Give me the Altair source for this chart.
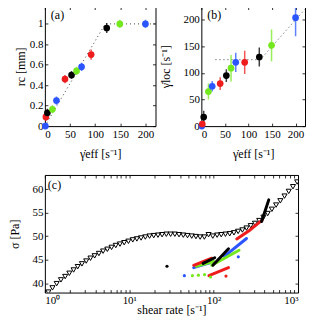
import altair as alt
import pandas as pd

FONT = "Liberation Serif"
TICK = 3

COLOR_KEYS = ["r", "k", "g", "b"]
COLOR_HEX = ["#ee1c1c", "#000000", "#74e81e", "#2a55ff"]

# ---------------- panels (a) and (b) ----------------
g_eff = [1, 2, 5, 15, 23, 40, 53, 63, 73, 92, 123, 149, 200]
pt_color = ["b", "r", "k", "g", "b", "r", "k", "g", "b", "r", "k", "g", "b"]
r_c = [0.0, 0.09, 0.13, 0.165, 0.25, 0.46, 0.50, 0.54, 0.58, 0.70, 0.96, 1.0, 1.0]
r_c_err = [0.03, 0.04, 0.04, 0.04, 0.04, 0.04, 0.04, 0.04, 0.04, 0.05, 0.05, 0.04, 0.04]
g_loc = [0, 4, 17, 65, 75, 80, 95, 109, 120, 120, 130, 152, 204]
g_loc_err = [3, 5, 12, 15, 10, 12, 12, 25, 18, 22, 18, 30, 35]

fit_a_x = [0, 120, 220]
fit_a_y = [0, 1, 1]
fit_b_x = [30, 125, 220]
fit_b_y = [125, 125, 220]

# ---------------- panel (c) ----------------
flow_rate = [1.10, 1.23, 1.38, 1.55, 1.74, 1.95, 2.19, 2.45, 2.75, 3.09,
             3.47, 3.89, 4.37, 4.90, 5.50, 6.17, 6.92, 7.76, 8.71, 9.77,
             11.0, 12.3, 13.8, 15.5, 17.4, 19.5, 21.9, 24.5, 27.5, 30.9,
             34.7, 38.9, 43.7, 49.0, 55.0, 61.7, 69.2, 77.6, 87.1, 97.7,
             110, 123, 138, 155, 174, 195, 219, 245, 275, 309,
             347, 389, 437, 490, 550, 617, 692, 776, 871, 977]
flow_stress = [38.1, 39.0, 39.9, 40.7, 41.4, 42.1, 42.8, 43.5, 44.1, 44.7,
               45.3, 45.8, 46.3, 46.8, 47.2, 47.6, 48.0, 48.3, 48.6, 48.9,
               49.2, 49.4, 49.6, 49.8, 50.0, 50.1, 50.2, 50.3, 50.4, 50.4,
               50.4, 50.3, 50.2, 50.1, 50.0, 49.9, 49.8, 49.8, 50.3, 50.0,
               50.2, 50.3, 50.4, 50.5, 50.7, 51.0, 51.3, 51.7, 52.2, 52.7,
               53.3, 54.0, 54.8, 55.7, 56.6, 57.5, 58.5, 59.5, 60.5, 61.5]

seg_id = ["bB", "bB", "bA", "bA", "gB", "gB", "gA", "gA", "rB", "rB", "rC", "rC",
          "rA", "rA", "rA", "kC", "kC", "kB", "kB", "kA", "kA"]
seg_color = ["b", "b", "b", "b", "g", "g", "g", "g", "r", "r", "r", "r",
             "r", "r", "r", "k", "k", "k", "k", "k", "k"]
seg_rate = [58, 90, 134, 245, 62, 100, 95, 200, 58, 95, 88, 150,
            188, 265, 375, 75, 103, 98, 150, 370, 450]
seg_stress = [43.3, 44.3, 45.7, 49.5, 43.6, 44.6, 43.8, 47.0, 43.8, 45.3, 41.6, 43.3,
              49.4, 51.2, 53.4, 44.2, 45.4, 43.8, 47.3, 53.1, 57.7]

dot_rate = [28, 45, 56, 66, 78, 92, 140, 196]
dot_stress = [43.6, 41.6, 41.6, 41.7, 41.8, 41.3, 41.5, 45.6]
dot_color = ["k", "b", "g", "g", "g", "g", "r", "b"]

color_enc = alt.Color("c:N", scale=alt.Scale(domain=COLOR_KEYS, range=COLOR_HEX), legend=None)


def axis(orient, values, title=None, labels=True, label_expr=None, fmt=None, tx=None, ty=None):
    kw = dict(orient=orient, values=values, domain=False, grid=False,
              ticks=True, tickSize=TICK, offset=-TICK, tickColor="black", tickWidth=0.8,
              labels=labels, labelFont=FONT, labelFontSize=11, labelColor="black",
              labelPadding=2, titleFont=FONT, titleFontSize=12, titleFontWeight="normal",
              titleColor="black", title=title)
    if label_expr:
        kw["labelExpr"] = label_expr
    if fmt:
        kw["format"] = fmt
    if tx is not None:
        kw["titleX"] = tx
        kw["titleBaseline"] = "alphabetic"
    if ty is not None:
        kw["titleY"] = ty
        kw["titleBaseline"] = "alphabetic"
    return alt.Axis(**kw)


def panel_label(txt, x, y):
    return alt.Chart(pd.DataFrame({"t": [txt]})).mark_text(
        align="left", baseline="alphabetic", font=FONT, fontSize=12, color="black"
    ).encode(text="t:N", x=alt.value(x), y=alt.value(y))


def spacer(x):
    # invisible text that only widens the panel's left bound
    return alt.Chart(pd.DataFrame({"t": ["."]})).mark_text(
        align="left", baseline="middle", fontSize=4, opacity=0
    ).encode(text="t:N", x=alt.value(x), y=alt.value(60))


df_ab = pd.DataFrame({
    "g": g_eff, "c": pt_color,
    "rc": r_c,
    "rc_lo": [v - e for v, e in zip(r_c, r_c_err)],
    "rc_hi": [v + e for v, e in zip(r_c, r_c_err)],
    "gl": g_loc,
    "gl_lo": [v - e for v, e in zip(g_loc, g_loc_err)],
    "gl_hi": [v + e for v, e in zip(g_loc, g_loc_err)],
})

XT = [0, 50, 100, 150, 200]


def scatter_panel(ycol, lo, hi, ydom, yticks, yfmt, ytitle, ytx, fitx, fity, lab, w, extra):
    xs = alt.Scale(domain=[0, 220], nice=False)
    ys = alt.Scale(domain=ydom, nice=False)
    fit = alt.Chart(pd.DataFrame({"x": fitx, "y": fity})).mark_line(
        color="#444444", strokeDash=[1, 3], strokeWidth=1, clip=True
    ).encode(x=alt.X("x:Q", scale=xs, axis=None), y=alt.Y("y:Q", scale=ys, axis=None))
    err = alt.Chart(df_ab).mark_rule(strokeWidth=1.5, opacity=0.75, clip=True).encode(
        x=alt.X("g:Q", scale=xs, axis=None),
        y=alt.Y(f"{lo}:Q", scale=ys, axis=None), y2=f"{hi}:Q", color=color_enc)
    pts = alt.Chart(df_ab).mark_circle(size=45, opacity=1).encode(
        x=alt.X("g:Q", scale=xs, axis=axis("bottom", XT, "γ̇eff [s⁻¹]", fmt="d", ty=34)),
        y=alt.Y(f"{ycol}:Q", scale=ys, axis=axis("left", yticks, ytitle, fmt=yfmt, tx=ytx)),
        color=color_enc)
    frame = alt.Chart(df_ab).mark_circle(opacity=0).encode(
        x=alt.X("g:Q", scale=xs, axis=axis("top", XT, labels=False)),
        y=alt.Y(f"{ycol}:Q", scale=ys, axis=axis("right", yticks, labels=False)))
    layers = [fit, err, pts, frame, panel_label(lab, 6, 13)] + extra
    return alt.layer(*layers).resolve_axis(
        x="independent", y="independent").properties(width=w, height=120)


pa = scatter_panel("rc", "rc_lo", "rc_hi", [0, 1.17], [0, 0.2, 0.4, 0.6, 0.8, 1], ".1~f",
                   "rc [mm]", -23.5, fit_a_x, fit_a_y, "(a)", 111, [spacer(-36)])
pb = scatter_panel("gl", "gl_lo", "gl_hi", [0, 225], [0, 50, 100, 150, 200], "d",
                   "γ̇loc [s⁻¹]", -35, fit_b_x, fit_b_y, "(b)", 104, [])

# ---------------- panel (c) ----------------
xs_c = alt.Scale(type="log", domain=[1, 1000], nice=False)
ys_c = alt.Scale(domain=[38, 63], nice=False)
log_ticks = [1, 2, 3, 4, 5, 6, 7, 8, 9, 10, 20, 30, 40, 50, 60, 70, 80, 90,
             100, 200, 300, 400, 500, 600, 700, 800, 900, 1000]
log_expr = ("datum.value == 1 ? '10⁰' : datum.value == 10 ? '10¹' : "
            "datum.value == 100 ? '10²' : datum.value == 1000 ? '10³' : ''")
YT_C = [40, 45, 50, 55, 60]

df_flow = pd.DataFrame({"x": flow_rate, "y": flow_stress})
df_seg = pd.DataFrame({"s": seg_id, "c": seg_color, "x": seg_rate, "y": seg_stress})
df_dot = pd.DataFrame({"x": dot_rate, "y": dot_stress, "c": dot_color})

flow = alt.Chart(df_flow).mark_point(
    shape="triangle-down", filled=False, size=26, strokeWidth=1, color="black",
    opacity=1, clip=True
).encode(
    x=alt.X("x:Q", scale=xs_c, axis=axis("bottom", log_ticks, "shear rate [s⁻¹]",
                                         label_expr=log_expr, ty=24)),
    y=alt.Y("y:Q", scale=ys_c, axis=axis("left", YT_C, "σ [Pa]", tx=-29.4)))
frame_c = alt.Chart(df_flow).mark_point(opacity=0).encode(
    x=alt.X("x:Q", scale=xs_c, axis=axis("top", log_ticks, labels=False)),
    y=alt.Y("y:Q", scale=ys_c, axis=axis("right", YT_C, labels=False)))
segs = alt.Chart(df_seg).mark_line(strokeWidth=3, strokeCap="round").encode(
    x=alt.X("x:Q", scale=xs_c, axis=None), y=alt.Y("y:Q", scale=ys_c, axis=None),
    detail="s:N", color=color_enc)
dots = alt.Chart(df_dot).mark_circle(size=10, opacity=1).encode(
    x=alt.X("x:Q", scale=xs_c, axis=None), y=alt.Y("y:Q", scale=ys_c, axis=None),
    color=color_enc)

pc = alt.layer(flow, frame_c, segs, dots, panel_label("(c)", 3, 14)).resolve_axis(
    x="independent", y="independent").properties(width=254, height=118)

top = alt.hconcat(pa, pb, spacing=2)
chart = alt.vconcat(top, pc, spacing=14).properties(
    padding={"left": 0, "top": -3, "right": 0, "bottom": 0}
).configure_view(stroke="black", strokeWidth=1).configure_text(font=FONT)

chart.save("out.html", embed_options={"renderer": "svg", "actions": False})
